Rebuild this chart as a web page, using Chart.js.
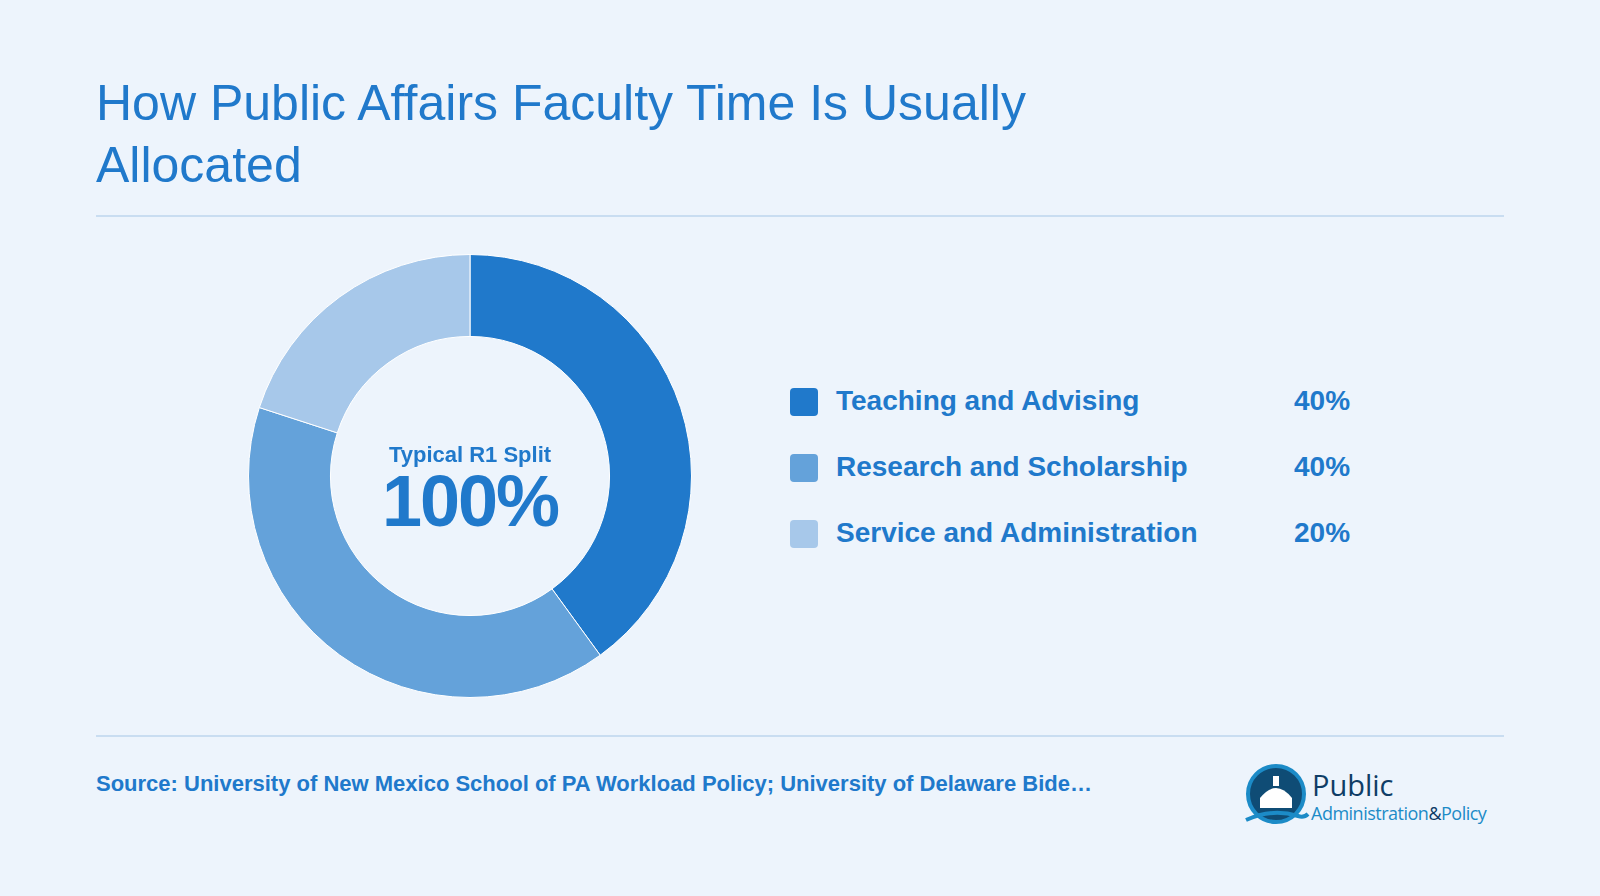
<!DOCTYPE html>
<html>
<head>
<meta charset="utf-8">
<script src="https://cdn.jsdelivr.net/npm/chart.js@4/dist/chart.umd.min.js"></script>
<style>
  body { margin:0; width:1600px; height:896px; background:#EDF4FC; font-family:"Liberation Sans", Arial, sans-serif; position:relative; overflow:hidden; }
  .title { position:absolute; left:96px; top:72px; font-size:50px; line-height:62px; color:#2079CB; width:1100px; }
  .rule { position:absolute; left:96px; width:1408px; height:2px; background:#C9DDF1; }
  .chart-box { position:absolute; left:248px; top:254px; width:444px; height:444px; }
  .center { position:absolute; left:248px; width:444px; text-align:center; color:#2079CB; font-weight:bold; }
  .legend { position:absolute; left:790px; top:385px; }
  .row { position:relative; height:66px; font-weight:bold; font-size:28px; color:#2079CB; }
  .sw { position:absolute; left:0; top:3px; width:28px; height:28px; border-radius:4px; }
  .lab { position:absolute; left:46px; top:0; white-space:nowrap; }
  .pct { position:absolute; left:504px; top:0; }
  .src { position:absolute; left:96px; top:771px; font-size:22px; font-weight:bold; color:#2079CB; white-space:nowrap; }
</style>
</head>
<body>
<div class="title">How Public Affairs Faculty Time Is Usually<br>Allocated</div>
<div class="rule" style="top:215px"></div>
<div class="rule" style="top:735px"></div>
<div class="chart-box"><canvas id="donut" width="444" height="444"></canvas></div>
<div class="center" style="top:443px;font-size:22px;line-height:24px">Typical R1 Split</div>
<div class="center" style="top:468px;font-size:72px;line-height:66px;letter-spacing:-2px">100%</div>
<div class="legend" id="legend"></div>
<div class="src">Source: University of New Mexico School of PA Workload Policy; University of Delaware Bide…</div>
<svg style="position:absolute;left:1242px;top:762px" width="270" height="74" viewBox="0 0 270 74">
  <circle cx="34" cy="32" r="28" fill="#0F4C75" stroke="#1C8BC7" stroke-width="4"/>
  <path d="M18 46 L18 36 Q34 16 50 36 L50 46 Z" fill="#fff"/>
  <rect x="31" y="14" width="6" height="10" fill="#fff"/>
  <path d="M4 58 Q30 46 56 54 Q62 56 66 52" stroke="#1C8BC7" stroke-width="4" fill="none"/>
  <text x="70" y="34" font-family="Open Sans, sans-serif" font-size="29" fill="#0F3D66">Public</text>
  <text x="69" y="58" font-family="Open Sans, sans-serif" font-size="18" letter-spacing="-0.5" fill="#1C8BC7">Administration<tspan fill="#0F3D66">&amp;</tspan>Policy</text>
</svg>
<script>
const categories = ['Teaching and Advising', 'Research and Scholarship', 'Service and Administration'];
const shares = [40, 40, 20];
const colors = ['#2079CB', '#64A2DA', '#A7C8EA'];

new Chart(document.getElementById('donut'), {
  type: 'doughnut',
  data: { labels: categories, datasets: [{ data: shares, backgroundColor: colors, borderColor: '#ffffff', borderWidth: 1 }] },
  options: {
    responsive: false, animation: false, cutout: '63%',
    plugins: { legend: { display: false }, tooltip: { enabled: false } }
  }
});

document.getElementById('legend').innerHTML = categories.map((c, i) => `
  <div class="row">
    <div class="sw" style="background:${colors[i]}"></div>
    <div class="lab">${c}</div>
    <div class="pct">${shares[i]}%</div>
  </div>`).join('');
</script>
</body>
</html>
